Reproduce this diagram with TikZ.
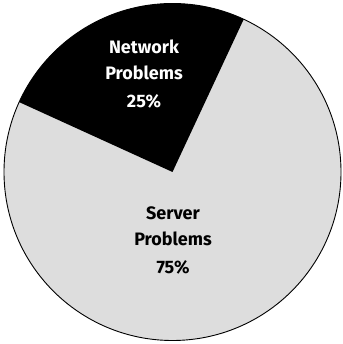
\documentclass[tikz,border=0pt]{standalone}
\usepackage{fontspec}
\setmainfont{Fira Sans}
\definecolor{piegray}{HTML}{DDDDDD}
\begin{document}
\begin{tikzpicture}[x=1pt,y=1pt,
  lbl/.style={font=\bfseries\fontsize{18}{26}\selectfont, align=center, inner sep=0pt}]
\useasboundingbox (0,0) rectangle (342,344);
\coordinate (c) at (172.5,172);
\fill[piegray] (c) circle (168.5);
\fill[black] (c) -- ++(65:168.5) arc (65:155.5:168.5) -- cycle;
\draw[line width=0.9pt] (c) circle (168.5);
\node[lbl, text=white] (net) at (144,344-74) {Network\\Problems\\[2pt]25\%};
\node[lbl, text=black] (srv) at (173,344-240) {Server\\Problems\\[2pt]75\%};
\end{tikzpicture}
\end{document}
